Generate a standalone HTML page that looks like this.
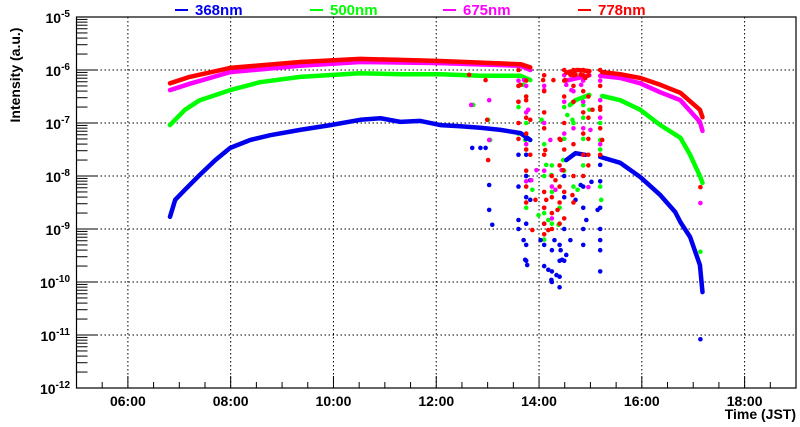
<!DOCTYPE html>
<html><head><meta charset="utf-8">
<style>
html,body{margin:0;padding:0;background:#fff;}
svg{display:block;font-family:"Liberation Sans",Arial,sans-serif;font-weight:bold;}
</style></head>
<body>
<svg id="chart" width="800" height="427" viewBox="0 0 800 427" xmlns="http://www.w3.org/2000/svg">
<rect x="0" y="0" width="800" height="427" fill="#fff"/>
<g id="grid"></g>
<g id="series"></g>
<g id="axes"></g>
<g id="legend"></g>
<text x="20" y="75" transform="rotate(-90 20 75)" text-anchor="middle" font-size="14" fill="#000">Intensity (a.u.)</text>
<text x="796" y="419" text-anchor="end" font-size="14" fill="#000">Time (JST)</text>
</svg>
<script>
const xTickHours = [6, 8, 10, 12, 14, 16, 18];
const xTickLabels = ["06:00", "08:00", "10:00", "12:00", "14:00", "16:00", "18:00"];
const yTickExps = [-12, -11, -10, -9, -8, -7, -6, -5];
const seriesNames = ["368nm", "500nm", "675nm", "778nm"];

// 368nm
const blueSeg1H = [6.82,6.92,7.11,7.40,7.70,7.99,8.38,8.77,9.35,9.94,10.52,10.91,11.30,11.69,12.08,12.47,12.86,13.25,13.64,13.83];
const blueSeg1L = [-8.77,-8.45,-8.26,-7.98,-7.70,-7.47,-7.32,-7.23,-7.13,-7.04,-6.94,-6.91,-6.98,-6.96,-7.04,-7.06,-7.09,-7.13,-7.19,-7.32];
const blueSeg2H = [14.53,14.71,14.90];
const blueSeg2L = [-7.70,-7.57,-7.60];
const blueSeg3H = [15.19,15.58,15.97,16.36,16.65,16.75,16.94,17.13,17.18];
const blueSeg3L = [-7.64,-7.75,-8.02,-8.36,-8.68,-8.87,-9.15,-9.68,-10.19];
const blueScatH = [12.70,12.86,12.96,13.03,13.03,13.09,13.60,13.70,13.73,13.77,13.83,13.83,14.03,14.18,14.24,14.30,14.34,14.42,14.45,14.53,14.61,14.71,14.81,14.92,15.02,15.14,15.19,15.19,17.14,
  13.60,13.60,13.60,13.75,13.75,13.75,13.75,13.75,13.75,13.75,14.10,14.10,14.10,14.25,14.25,14.25,14.40,14.40,14.40,14.40,14.49,14.49,14.49,14.49,14.86,14.86,14.86,14.86,15.19,15.19,15.19,15.19,15.19];
const blueScatL = [-7.47,-7.47,-7.47,-8.17,-8.64,-8.92,-8.83,-9.21,-9.58,-9.68,-8.08,-8.45,-9.21,-9.77,-9.96,-9.21,-9.87,-9.40,-9.58,-9.49,-9.21,-8.45,-8.17,-8.83,-8.11,-8.64,-9.21,-7.79,-11.08,
  -7.6,-8.2,-9.0,-7.3,-7.6,-8.0,-8.4,-8.9,-9.3,-9.6,-8.9,-9.3,-9.7,-9.4,-9.8,-10.0,-9.3,-9.6,-9.9,-10.1,-8.0,-8.4,-9.0,-9.6,-8.2,-8.6,-9.0,-9.3,-8.1,-8.6,-9.0,-9.4,-9.8];

// 500nm
const greenSeg1H = [6.82,7.11,7.40,7.99,8.57,9.35,10.52,11.30,12.08,12.86,13.64,13.83];
const greenSeg1L = [-7.04,-6.75,-6.57,-6.38,-6.23,-6.13,-6.06,-6.08,-6.08,-6.11,-6.11,-6.19];
const greenSeg2H = [14.60,14.71,14.98];
const greenSeg2L = [-6.66,-6.57,-6.47];
const greenSeg3H = [15.23,15.58,15.97,16.36,16.75,16.94,17.13,17.18];
const greenSeg3L = [-6.49,-6.57,-6.75,-7.04,-7.28,-7.60,-8.00,-8.13];
const greenScatH = [12.72,13.01,13.05,13.70,13.73,13.87,13.99,14.05,14.14,14.18,14.24,14.38,14.47,14.55,14.65,14.75,14.86,14.98,15.19,15.21,17.14,
  13.60,13.60,13.60,13.75,13.75,13.75,13.75,13.75,14.10,14.10,14.10,14.10,14.25,14.25,14.25,14.40,14.40,14.49,14.49,14.49,14.67,14.67,14.67,14.67,14.86,14.86,14.86,15.19,15.19,15.19];
const greenScatL = [-6.66,-6.94,-7.32,-6.28,-7.32,-8.26,-8.74,-6.94,-7.79,-8.83,-7.98,-8.92,-7.70,-6.85,-6.94,-8.26,-6.66,-6.75,-7.32,-8.45,-9.43,
  -6.3,-6.7,-7.2,-6.5,-7.0,-7.5,-8.0,-8.6,-7.4,-8.0,-8.7,-9.2,-7.8,-8.3,-8.9,-8.6,-8.9,-6.7,-7.3,-7.9,-6.6,-7.0,-7.6,-8.2,-6.9,-7.3,-7.8,-7.0,-7.5,-8.2];

// 675nm
const magSeg1H = [6.82,7.20,7.99,9.35,10.52,12.08,13.64,13.83];
const magSeg1L = [-6.38,-6.26,-6.04,-5.92,-5.85,-5.87,-5.92,-6.00];
const magSeg2H = [14.53,14.75,14.98];
const magSeg2L = [-6.20,-6.15,-6.10];
const magSeg3H = [15.19,15.58,15.97,16.36,16.75,17.13,17.18];
const magSeg3L = [-6.11,-6.15,-6.25,-6.42,-6.57,-6.98,-7.15];
const magScatH = [12.68,13.03,13.03,13.71,13.79,13.85,13.95,14.10,14.22,14.32,14.44,14.53,14.63,14.82,14.96,15.00,15.19,17.14,
  13.60,13.60,13.75,13.75,13.75,13.75,14.10,14.10,14.10,14.10,14.25,14.25,14.49,14.49,14.49,14.67,14.67,14.67,14.86,14.86,14.86,15.19,15.19,15.19];
const magScatL = [-6.66,-6.57,-7.32,-6.19,-6.75,-8.08,-7.89,-6.38,-7.32,-8.26,-7.89,-6.28,-6.38,-6.28,-8.21,-7.13,-6.57,-8.51,
  -6.2,-6.6,-6.3,-6.8,-7.4,-8.1,-6.3,-7.0,-7.9,-8.6,-8.2,-8.8,-6.1,-6.6,-7.2,-6.1,-6.4,-7.1,-6.2,-6.6,-7.1,-6.2,-6.9,-7.4];

// 778nm
const redSeg1H = [6.82,7.20,7.99,9.35,10.52,11.30,12.08,13.64,13.83];
const redSeg1L = [-6.25,-6.13,-5.96,-5.85,-5.79,-5.81,-5.83,-5.89,-5.95];
const redSeg2H = [14.53,14.75,14.98];
const redSeg2L = [-6.05,-6.00,-6.02];
const redSeg3H = [15.23,15.58,15.97,16.36,16.75,17.13,17.18];
const redSeg3L = [-6.04,-6.08,-6.15,-6.28,-6.43,-6.75,-6.89];
const redScatH = [12.64,12.96,12.99,13.01,13.64,13.75,13.83,13.83,13.93,14.08,14.12,14.14,14.18,14.28,14.32,14.36,14.42,14.47,14.51,14.61,14.65,14.71,14.81,14.90,14.96,15.04,15.19,15.23,13.87,17.14,
  13.60,13.60,13.60,13.60,13.60,13.75,13.75,13.75,13.75,13.75,13.75,13.75,13.75,14.10,14.10,14.10,14.10,14.10,14.10,14.10,14.10,14.10,14.25,14.25,14.25,14.25,14.40,14.40,14.40,14.40,14.40,14.49,14.49,14.49,14.49,14.49,14.49,14.49,14.67,14.67,14.67,14.67,14.67,14.67,14.67,14.86,14.86,14.86,14.86,14.86,14.86,14.86,14.96,14.96,14.96,14.96,14.96,15.19,15.19,15.19,15.19,15.19];
const redScatL = [-6.09,-6.19,-6.94,-7.70,-6.28,-6.57,-6.94,-7.60,-8.45,-6.19,-7.51,-8.45,-9.02,-6.19,-8.08,-8.64,-7.32,-7.89,-6.19,-6.09,-8.36,-6.09,-6.09,-6.15,-7.60,-6.75,-6.75,-7.32,-9.02,-8.21,
  -6.0,-6.3,-6.6,-7.0,-7.3,-6.2,-6.5,-6.9,-7.2,-7.5,-7.9,-8.2,-8.5,-6.1,-6.4,-6.8,-7.1,-7.6,-8.3,-8.6,-8.9,-9.1,-8.0,-8.4,-8.7,-9.0,-7.3,-7.8,-8.2,-8.5,-8.9,-6.0,-6.2,-6.5,-7.0,-7.5,-8.3,-8.8,-6.0,-6.1,-6.3,-6.6,-7.4,-8.0,-8.5,-6.0,-6.1,-6.4,-6.8,-7.2,-7.6,-8.0,-6.1,-6.5,-6.9,-7.3,-7.8,-6.0,-6.3,-6.7,-7.1,-7.6];

const X0 = 76.5, X1 = 796, Y0 = 17, Y1 = 388;
const xDomain = [5, 19], yDomain = [-12, -5];
function xs(h){ return X0 + (h - xDomain[0]) / (xDomain[1] - xDomain[0]) * (X1 - X0); }
function ys(l){ return Y1 - (l - yDomain[0]) / (yDomain[1] - yDomain[0]) * (Y1 - Y0); }
const NS = "http://www.w3.org/2000/svg";
function mk(tag, attrs, parent){ const e = document.createElementNS(NS, tag); for (const k in attrs) e.setAttribute(k, attrs[k]); parent.appendChild(e); return e; }

const grid = document.getElementById('grid');
const axes = document.getElementById('axes');
const series = document.getElementById('series');
const legend = document.getElementById('legend');

xTickHours.forEach(h => {
  const l = mk('line', {x1: xs(h), x2: xs(h), y1: Y0, y2: Y1, stroke: '#000', 'stroke-width': 1, 'stroke-dasharray': '1.5,2.5'}, grid);
  
  
});
yTickExps.forEach(e => {
  const l = mk('line', {x1: X0, x2: X1, y1: ys(e), y2: ys(e), stroke: '#000', 'stroke-width': 1, 'stroke-dasharray': '1.5,2.5'}, grid);
  
  
});

function drawSeries(color, segs, scH, scL, name){
  const g = mk('g', {}, series);
  
  
  segs.forEach(s => {
    const pts = s[0].map((h, i) => xs(h).toFixed(1) + ',' + ys(s[1][i]).toFixed(1)).join(' ');
    const p = mk('polyline', {points: pts, fill: 'none', stroke: color, 'stroke-width': 4.5, 'stroke-linejoin': 'round', 'stroke-linecap': 'round'}, g);
    
    
  });
  scH.forEach((h, i) => {
    const c = mk('circle', {cx: xs(h), cy: ys(scL[i]), r: 2.3, fill: color}, g);
    
    
  });
}
drawSeries('#00ff00', [[greenSeg1H, greenSeg1L], [greenSeg2H, greenSeg2L], [greenSeg3H, greenSeg3L]], greenScatH, greenScatL, '500nm');
drawSeries('#0000ee', [[blueSeg1H, blueSeg1L], [blueSeg2H, blueSeg2L], [blueSeg3H, blueSeg3L]], blueScatH, blueScatL, '368nm');
drawSeries('#ff00ff', [[magSeg1H, magSeg1L], [magSeg2H, magSeg2L], [magSeg3H, magSeg3L]], magScatH, magScatL, '675nm');
drawSeries('#ff0000', [[redSeg1H, redSeg1L], [redSeg2H, redSeg2L], [redSeg3H, redSeg3L]], redScatH, redScatL, '778nm');

const fr = mk('rect', {x: X0, y: Y0, width: X1 - X0, height: Y1 - Y0, fill: 'none', stroke: '#000', 'stroke-width': 1.2}, axes);



for (let h = xDomain[0] + 0.5; h < xDomain[1]; h += 0.5) {
  const major = Math.abs(h - Math.round(h / 2) * 2) < 1e-6;
  const t = mk('line', {x1: xs(h), x2: xs(h), y1: Y1, y2: Y1 - (major ? 12 : 6), stroke: '#000', 'stroke-width': 1}, axes);
  
  
}
xTickHours.forEach((h, i) => {
  const t = mk('text', {x: xs(h), y: 406, 'text-anchor': 'middle', 'font-size': 14, fill: '#000'}, axes);
  t.textContent = xTickLabels[i];
  
  
});
for (let e = yDomain[0]; e < yDomain[1]; e++) {
  for (let m = 1; m <= 9; m++) {
    const l = e + Math.log10(m);
    const t = mk('line', {x1: X0, x2: X0 + (m === 1 ? 21 : 11), y1: ys(l), y2: ys(l), stroke: '#000', 'stroke-width': 1}, axes);
    
    
  }
}
yTickExps.forEach(e => {
  const t = mk('text', {x: 70, y: ys(e) + 6, 'text-anchor': 'end', 'font-size': 14, fill: '#000'}, axes);
  const a = document.createElementNS(NS, 'tspan'); a.textContent = '10'; t.appendChild(a);
  const b = document.createElementNS(NS, 'tspan'); b.setAttribute('dy', '-6'); b.setAttribute('font-size', '10'); b.textContent = String(e); t.appendChild(b);
  
  
});

const legColors = ['#0000ee', '#00ff00', '#ff00ff', '#ff0000'];
const legX = [175, 310, 443, 578];
seriesNames.forEach((n, i) => {
  const g = mk('g', {}, legend);
  
  
  mk('line', {x1: legX[i], x2: legX[i] + 13, y1: 10, y2: 10, stroke: legColors[i], 'stroke-width': 2}, g);
  const t = mk('text', {x: legX[i] + 20, y: 15, 'font-size': 15, fill: legColors[i]}, g);
  t.textContent = n;
});
</script>
</body></html>
